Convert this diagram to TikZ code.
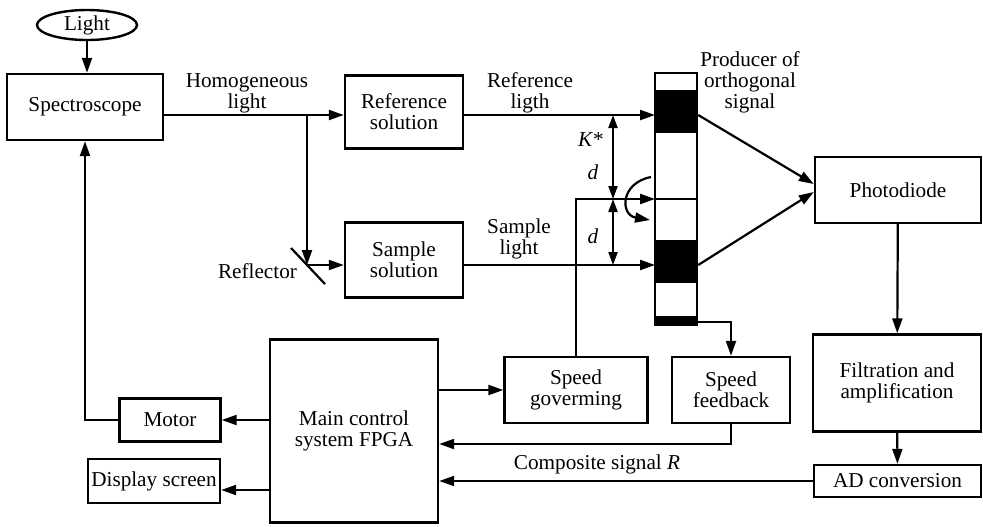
\documentclass[tikz,border=0pt]{standalone}
\usepackage{fontspec}
\setmainfont{Liberation Serif}
\usetikzlibrary{arrows.meta, positioning, calc, shapes.geometric}

\begin{document}
\begin{tikzpicture}[
    x=0.5pt, y=-0.5pt,
    every node/.style={font=\fontsize{10.6}{10.5}\selectfont, align=center},
    box/.style={rectangle, draw, line width=1.2pt, inner sep=1pt},
    wire/.style={line width=1.1pt},
    arr/.style={line width=1.1pt, -{Triangle[length=7.5pt, width=5pt]}},
    dim/.style={line width=1pt, {Triangle[length=6.5pt, width=4.5pt]}-{Triangle[length=6.5pt, width=4.5pt]}},
]
\useasboundingbox (0,0) rectangle (983,526);

% ---------------------------------------------------------------- optics
\node[ellipse, draw, line width=1.2pt, minimum width=50pt, minimum height=15pt, inner sep=0pt]
    (light) at (87,25) {Light};
\node[box, minimum width=78pt, minimum height=33pt] (spectro) at (85,107) {Spectroscope};
\node[box, minimum width=59pt, minimum height=36.5pt] (refsol) at (404,112) {Reference\\solution};
\node[box, minimum width=59pt, minimum height=37.5pt] (samsol) at (404,260) {Sample\\solution};

\coordinate (split) at (307,115);
\coordinate (refl) at (307,265);
\draw[arr] (light) -- (light |- spectro.north);
\draw[arr] (spectro.east |- split) -- (refsol.west |- split);
\draw[arr] (split) -- (refl);
\draw[line width=1.1pt] (291,248) -- (325,284);
\draw[arr] (refl) -- (samsol.west |- refl);
\node (homlab) at (247,93) {Homogeneous\\light};
\node[anchor=east] (refllab) at (304,271) {Reflector};

% ---------------------------------------------------------------- chopper
\node[draw, line width=1.2pt, minimum width=21pt, minimum height=126pt, inner sep=0pt]
    (strip) at (676,199) {};
\fill (655,90) rectangle (697,133);
\fill (655,240) rectangle (697,283);
\fill (655,316) rectangle (697,325);
\node (prodlab) at (750,82) {Producer of\\orthogonal\\signal};

\coordinate (refbeam) at (655,115);
\coordinate (midbeam) at (655,199);
\coordinate (sambeam) at (655,265);
\draw[arr] (refsol.east |- refbeam) -- (refbeam);
\draw[arr] (samsol.east |- sambeam) -- (sambeam);
\node (reflab) at (530,93) {Reference\\ligth};
\node (samlab) at (519,239) {Sample\\light};

% spacing of the beams
\draw[dim] (613,115) -- (613,199);
\draw[dim] (613,199) -- (613,265);
\node (klab) at (591,140) {\textit{K}*};
\node (d1lab) at (593,172) {\textit{d}};
\node (d2lab) at (593,236) {\textit{d}};
\draw[arr] (651,177) .. controls (620,183) and (620,215) .. (650,220);

% ---------------------------------------------------------------- detection
\node[box, minimum width=83pt, minimum height=33pt] (photo) at (898,190) {Photodiode};
\node[box, minimum width=84pt, minimum height=48.5pt] (filt) at (897,383) {Filtration and\\amplification};
\node[box, minimum width=83.5pt, minimum height=16pt] (adc) at (897.5,481) {AD conversion};
\draw[arr] (strip.east |- refbeam) -- ($(photo.west)+(0,-6)$);
\draw[arr] (strip.east |- sambeam) -- ($(photo.west)+(0,2)$);
\draw[arr] (photo) -- (filt);
\draw[arr] (filt) -- (adc);

% ---------------------------------------------------------------- control
\node[box, minimum width=84pt, minimum height=91.5pt] (main) at (354,431) {Main control\\system FPGA};
\node[box, minimum width=71.5pt, minimum height=33pt] (speedgov) at (576,390) {Speed\\goverming};
\node[box, minimum width=59pt, minimum height=33pt] (speedfb) at (731,390) {Speed\\feedback};
\node[box, minimum width=50.5pt, minimum height=21.5pt] (motor) at (170,420) {Motor};
\node[box, minimum width=66pt, minimum height=22pt] (disp) at (154,481) {Display screen};

\coordinate (stripout) at (697,322);
\draw[arr] (speedgov.north) |- (midbeam);
\draw[wire] (midbeam) -- (strip.east |- midbeam);
\draw[arr] (stripout) -| (speedfb.north);
\draw[arr] (main.east |- speedgov) -- (speedgov.west);
\draw[arr] (speedfb.south) |- ($(main.east)+(0,13)$);
\draw[arr] (adc.west) -- (main.east |- adc.west);
\node (complab) at (597,464) {Composite signal \textit{R}};
\draw[arr] (main.west |- motor) -- (motor.east);
\draw[arr] ($(main.west |- disp)+(0,9)$) -- ($(disp.east)+(0,9)$);
\draw[arr] (motor.west) -| (spectro.south);
\end{tikzpicture}
\end{document}
